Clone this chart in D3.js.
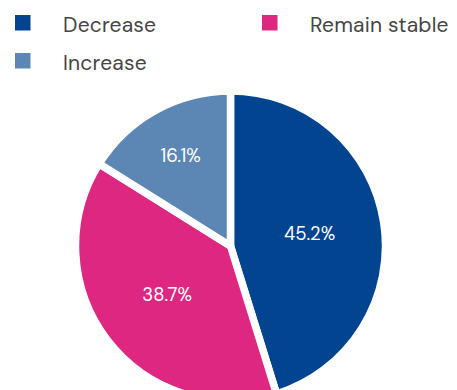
<!DOCTYPE html>
<html>
<head>
<meta charset="utf-8">
<script src="https://cdn.jsdelivr.net/npm/d3@7"></script>
<style>
  html, body { margin: 0; padding: 0; background: #ffffff; }
  svg { display: block; font-family: "DM Sans", Inter, "Open Sans", sans-serif; }
</style>
</head>
<body>
<svg id="chart" width="457" height="390"></svg>
<script>
// Survey response shares, clockwise from 12 o'clock
const categories = ["Decrease", "Remain stable", "Increase"];
const shares = [45.2, 38.7, 16.1];
const colors = ["#02448F", "#DD2780", "#5C87B4"];

const svg = d3.select("#chart");

// Legend: two columns, two rows
const legendPos = [
  { x: 15, y: 15 },
  { x: 262, y: 15 },
  { x: 15, y: 53 }
];
const legend = svg.append("g").attr("class", "legend");
categories.forEach((c, i) => {
  const g = legend.append("g").attr("transform", `translate(${legendPos[i].x},${legendPos[i].y})`);
  g.append("rect").attr("width", 15.5).attr("height", 15.5).attr("fill", colors[i]);
  g.append("text")
    .attr("x", 48)
    .attr("y", 16.5)
    .attr("font-size", 21)
    .attr("letter-spacing", 0.2)
    .attr("fill", "#454545")
    .text(c);
});

// Pie
const cx = 230.5, cy = 246, outerR = 155;
const data = categories.map((c, i) => ({ name: c, value: shares[i], color: colors[i] }));
const pie = d3.pie().sort(null).value(d => d.value);
const arc = d3.arc().innerRadius(0).outerRadius(outerR);
const arcs = pie(data);

const g = svg.append("g").attr("transform", `translate(${cx},${cy})`);
g.selectAll("path.slice")
  .data(arcs)
  .join("path")
  .attr("class", "slice")
  .attr("d", arc)
  .attr("fill", d => d.data.color)
  .attr("stroke", "#ffffff")
  .attr("stroke-width", 7.5)
  .attr("stroke-linejoin", "miter");

// Labels: small slices get their label pushed further out
g.selectAll("text.value")
  .data(arcs)
  .join("text")
  .attr("class", "value")
  .attr("transform", d => {
    const share = (d.endAngle - d.startAngle) / (2 * Math.PI);
    const r = share < 0.2 ? 103 : 80;
    const a = (d.startAngle + d.endAngle) / 2;
    return `translate(${r * Math.sin(a)},${-r * Math.cos(a)})`;
  })
  .attr("text-anchor", "middle")
  .attr("dy", "0.35em")
  .attr("font-size", 18.5)
  .attr("fill", "#ffffff")
  .text(d => d3.format(".1f")(d.data.value) + "%");
</script>
</body>
</html>
